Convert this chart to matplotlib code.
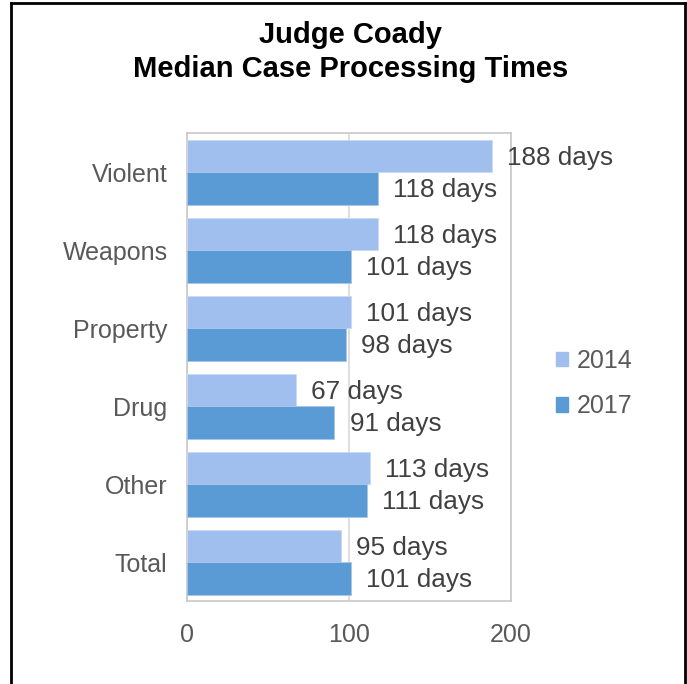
import numpy as np
import matplotlib as mpl
mpl.use('Agg')
import matplotlib.pyplot as plt
from matplotlib.patches import Patch
from matplotlib.lines import Line2D

categories = ["Violent", "Weapons", "Property", "Drug", "Other", "Total"]
days_2014 = [188, 118, 101, 67, 113, 95]
days_2017 = [118, 101, 98, 91, 111, 101]

c2014 = "#A0BFEE"
c2017 = "#5B9BD5"

plt.rcParams['font.family'] = ['Liberation Sans', 'DejaVu Sans']

fig = plt.figure(figsize=(6.87, 6.84), dpi=100)
ax = fig.add_axes([0.2722, 0.1213, 0.4716, 0.6842])

y = np.arange(len(categories))
h = 0.417
b1 = ax.barh(y - h / 2, days_2014, height=h, color=c2014, edgecolor="#C9DAF5", linewidth=0.6, zorder=3)
b2 = ax.barh(y + h / 2, days_2017, height=h, color=c2017, edgecolor="#A9C7EA", linewidth=0.6, zorder=3)

for bars, vals in [(b1, days_2014), (b2, days_2017)]:
    for bar, v in zip(bars, vals):
        ax.annotate("%d days" % v, (v, bar.get_y() + bar.get_height() / 2),
                    xytext=(11, -1.5), textcoords="offset points",
                    ha="left", va="center", fontsize=18.8, color="#404040",
                    annotation_clip=False, zorder=4)

ax.set_xlim(0, 200)
ax.set_ylim(len(categories) - 0.5, -0.5)
ax.set_yticks(y)
ax.set_yticklabels(categories)
ax.set_xticks([0, 100, 200])
ax.tick_params(length=0, labelsize=18, colors="#595959")
ax.tick_params(axis="y", pad=14)
ax.tick_params(axis="x", pad=15.5)
ax.xaxis.grid(True, color="#D9D9D9", linewidth=1.2, zorder=0)
for s in ax.spines.values():
    s.set_color("#C8C8C8")
    s.set_linewidth(1.2)

fig.text(0.51, 0.949, "Judge Coady", ha="center", va="center",
         fontsize=21, fontweight="bold", color="black")
fig.text(0.51, 0.899, "Median Case Processing Times", ha="center", va="center",
         fontsize=21, fontweight="bold", color="black")

handles = [Patch(color=c2014, label="2014"), Patch(color=c2017, label="2017")]
fig.legend(handles=handles, loc="center left", bbox_to_anchor=(0.809, 0.439),
           frameon=False, fontsize=18, handlelength=0.5, handleheight=0.5,
           handletextpad=0.35, labelspacing=0.85, labelcolor="#595959",
           borderaxespad=0, borderpad=0)

# outer frame
fr = dict(color="black", linewidth=2, transform=fig.transFigure)
fig.add_artist(Line2D([0.016, 0.016], [-0.01, 0.9956], **fr))
fig.add_artist(Line2D([0.997, 0.997], [-0.01, 0.9956], **fr))
fig.add_artist(Line2D([0.016, 0.997], [0.9956, 0.9956], **fr))

fig.savefig("out.png", dpi=100)
